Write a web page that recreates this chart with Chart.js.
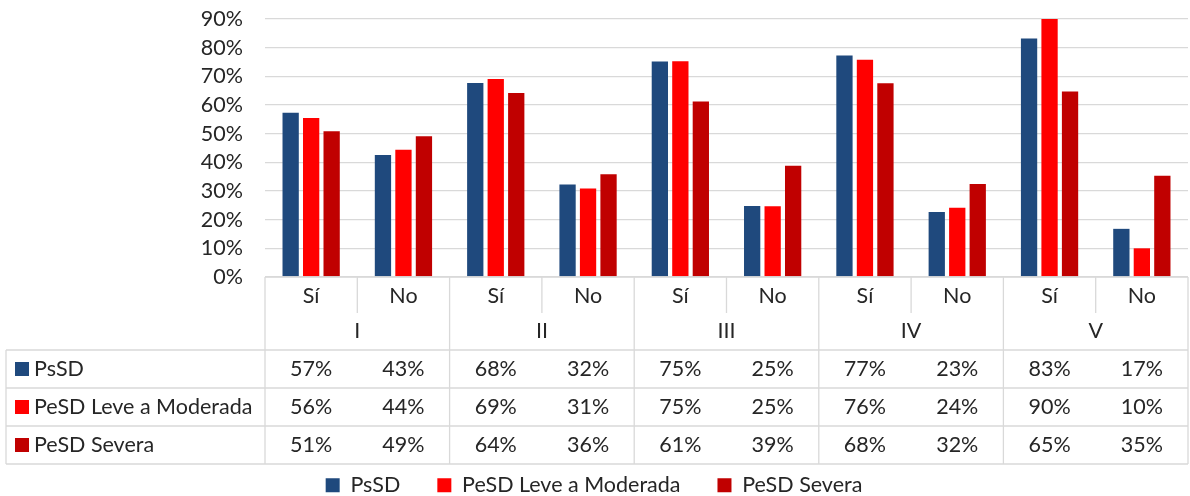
<!DOCTYPE html>
<html>
<head>
<meta charset="utf-8">
<script src="https://cdn.jsdelivr.net/npm/chart.js@4.4.0/dist/chart.umd.min.js"></script>
<style>
  html, body { margin: 0; padding: 0; background: #fff; overflow: hidden; }
  #wrap { width: 1190px; height: 506px; }
</style>
</head>
<body>
<div id="wrap"><canvas id="chart"></canvas></div>
<script>
// categories: answer per group
const answers = ["Sí", "No", "Sí", "No", "Sí", "No", "Sí", "No", "Sí", "No"];
const groups = ["I", "II", "III", "IV", "V"];
const seriesNames = ["PsSD", "PeSD Leve a Moderada", "PeSD Severa"];
const seriesColors = ["#1f497d", "#ff0000", "#c00000"];

// percentages
const psSD = [57.3, 42.6, 67.7, 32.3, 75.2, 24.8, 77.3, 22.7, 83.2, 16.8];
const leveModerada = [55.5, 44.4, 69.1, 30.9, 75.3, 24.7, 75.8, 24.2, 90.0, 10.0];
const severa = [50.8, 49.1, 64.2, 35.8, 61.2, 38.8, 67.6, 32.4, 64.7, 35.3];

const yMax = 90;
const yStep = 10;

const textColor = "#262626";
const lineColor = "#d9d9d9";
const fontFamily = "Lato, 'Open Sans', sans-serif";
const fontSize = 21.5;
const legendPad = 37;
const canvasH = 506;
const plotBottom = 277;

// draws the Excel style data table under the plot
const dataTable = {
  id: "dataTable",
  afterDraw(chart) {
    const { ctx, chartArea } = chart;
    const x = chart.scales.x;
    const left = chartArea.left;
    const right = chartArea.right;
    const colW = (right - left) / answers.length;
    const tableLeft = 6;
    const rows = [chartArea.bottom, 313, 350, 388, 426, 464];

    ctx.save();
    ctx.strokeStyle = lineColor;
    ctx.lineWidth = 1.3;
    ctx.beginPath();
    ctx.moveTo(left, rows[0]);
    ctx.lineTo(right, rows[0]);
    for (let r = 2; r < rows.length; r++) {
      ctx.moveTo(tableLeft, rows[r]);
      ctx.lineTo(right, rows[r]);
    }
    for (let i = 0; i <= answers.length; i++) {
      const px = left + i * colW;
      ctx.moveTo(px, rows[0]);
      ctx.lineTo(px, i % 2 === 0 ? rows[5] : rows[1]);
    }
    ctx.moveTo(tableLeft, rows[2]);
    ctx.lineTo(tableLeft, rows[5]);
    ctx.stroke();

    ctx.fillStyle = textColor;
    ctx.font = fontSize + "px " + fontFamily;
    ctx.textAlign = "center";
    ctx.textBaseline = "middle";

    answers.forEach((a, i) => {
      ctx.fillText(a, x.getPixelForValue(i), (rows[0] + rows[1]) / 2 + 1);
    });
    groups.forEach((g, i) => {
      const cx = (x.getPixelForValue(i * 2) + x.getPixelForValue(i * 2 + 1)) / 2;
      ctx.fillText(g, cx, (rows[1] + rows[2]) / 2);
    });

    chart.data.datasets.forEach((ds, r) => {
      const cy = (rows[r + 2] + rows[r + 3]) / 2;
      ds.data.forEach((v, i) => {
        ctx.fillStyle = textColor;
        ctx.textAlign = "center";
        ctx.fillText(Math.round(v) + "%", x.getPixelForValue(i), cy);
      });
      ctx.fillStyle = ds.backgroundColor;
      ctx.fillRect(15, cy - 7, 14, 14);
      ctx.fillStyle = textColor;
      ctx.textAlign = "left";
      ctx.fillText(ds.label, 34, cy);
    });
    ctx.restore();
  },
};

const ctx = document.getElementById("chart").getContext("2d");
const chart = new Chart(ctx, {
  type: "bar",
  data: {
    labels: answers,
    datasets: [
      { label: seriesNames[0], data: psSD, backgroundColor: seriesColors[0] },
      { label: seriesNames[1], data: leveModerada, backgroundColor: seriesColors[1] },
      { label: seriesNames[2], data: severa, backgroundColor: seriesColors[2] },
    ],
  },
  options: {
    responsive: true,
    maintainAspectRatio: false,
    animation: false,
    layout: { padding: { top: 19, right: 2, left: 0, bottom: 0 } },
    datasets: {
      bar: { categoryPercentage: 0.666, barPercentage: 0.795 },
    },
    scales: {
      x: {
        ticks: { display: false },
        grid: { display: false },
        border: { display: false },
        afterFit: (scale) => {
          scale.height = canvasH - plotBottom - (fontSize + legendPad + 10);
        },
      },
      y: {
        min: 0,
        max: yMax,
        ticks: {
          stepSize: yStep,
          autoSkip: false,
          padding: 0,
          color: textColor,
          font: { family: fontFamily, size: fontSize },
          callback: (v) => v + "%",
        },
        grid: {
          color: lineColor,
          lineWidth: 1.3,
          drawTicks: true,
          tickLength: 22,
          tickColor: "rgba(0,0,0,0)",
        },
        border: { display: false },
        afterFit: (scale) => { scale.width = 265; },
      },
    },
    plugins: {
      legend: {
        position: "bottom",
        labels: {
          boxWidth: 14,
          boxHeight: 14,
          padding: legendPad,
          color: textColor,
          font: { family: fontFamily, size: fontSize },
        },
      },
      tooltip: { enabled: false },
    },
  },
  plugins: [dataTable],
});
</script>
</body>
</html>
